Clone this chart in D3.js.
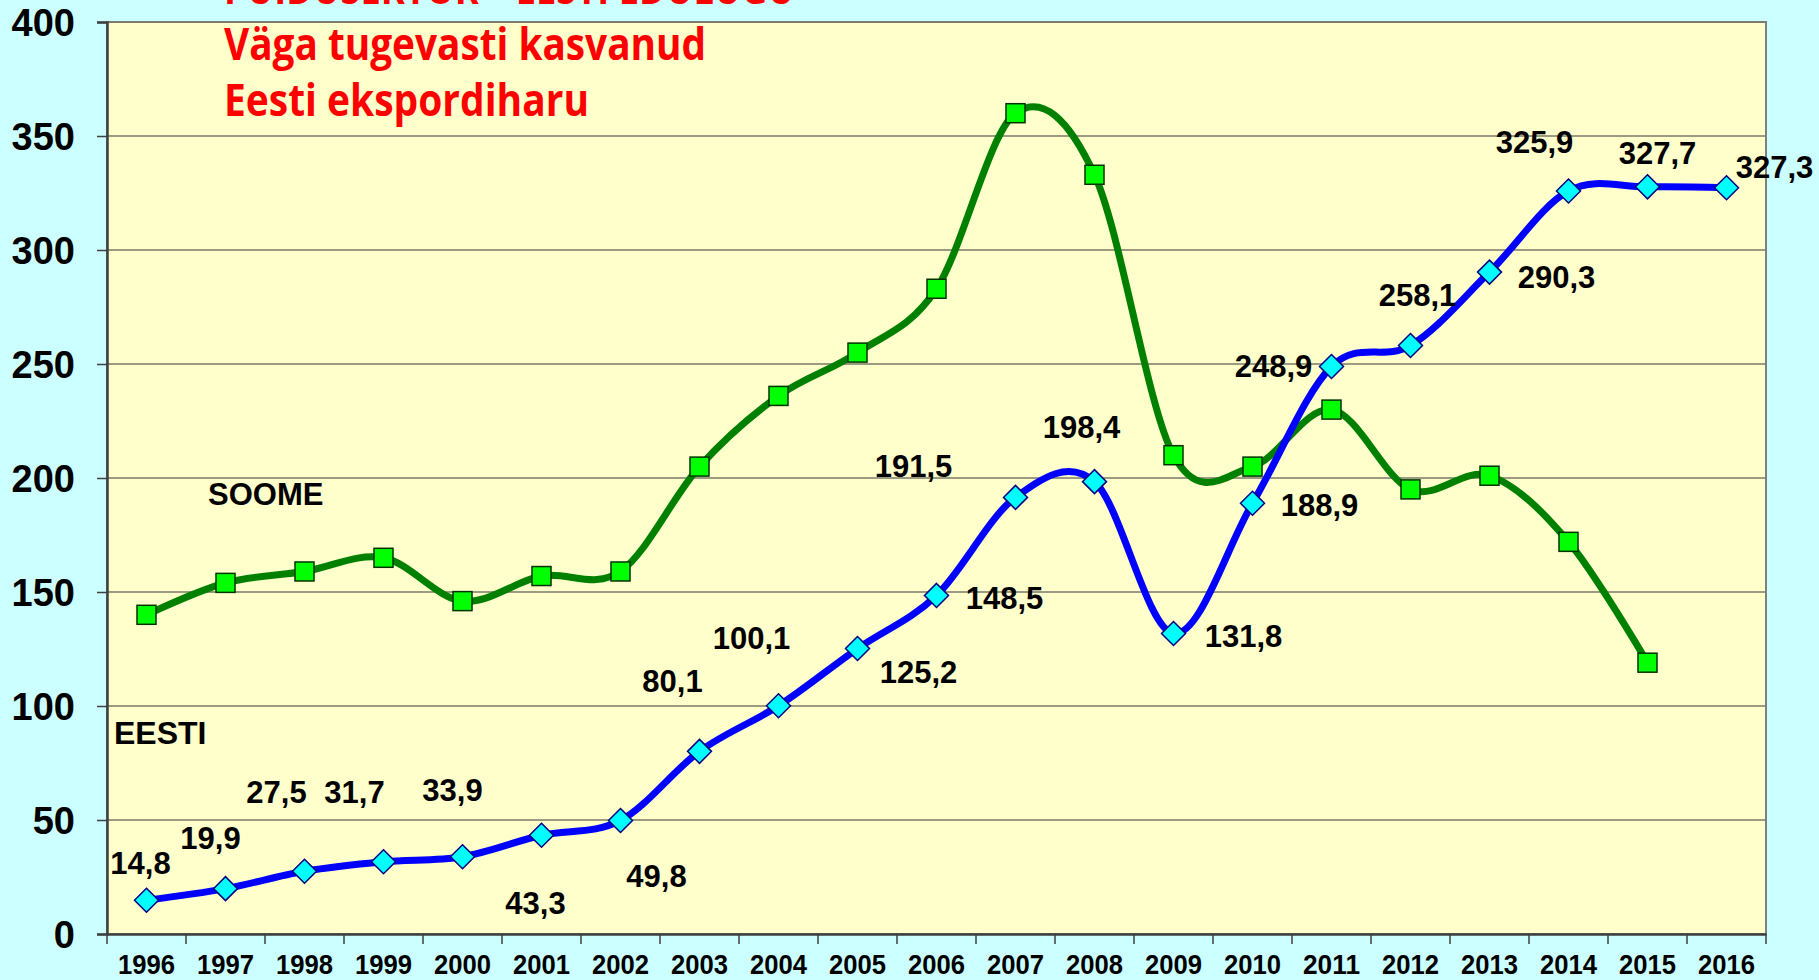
<!DOCTYPE html>
<html>
<head>
<meta charset="utf-8">
<script src="https://cdn.jsdelivr.net/npm/d3@7/dist/d3.min.js"></script>
<style>
  html, body { margin: 0; padding: 0; background: #CCFFFF; overflow: hidden; }
  svg { display: block; }
</style>
</head>
<body>
<svg id="chart" width="1819" height="980"></svg>
<script>
// ---- data ----
const years = ["1996","1997","1998","1999","2000","2001","2002","2003","2004","2005","2006","2007","2008","2009","2010","2011","2012","2013","2014","2015","2016"];
const eesti = [14.8,19.9,27.5,31.7,33.9,43.3,49.8,80.1,100.1,125.2,148.5,191.5,198.4,131.8,188.9,248.9,258.1,290.3,325.9,327.7,327.3];
const soome = [140,154,159,165,146,157,159,205,236,255,283,360,333,210,205,230,195,201,172,119,null];
const yTicks = [0,50,100,150,200,250,300,350,400];
const seriesNames = ["EESTI","SOOME"];
const titleLines = ["PUIDUSEKTOR – EESTI EDULUGU","Väga tugevasti kasvanud","Eesti ekspordiharu"];

// ---- layout (label placement offsets, px, relative to marker) ----
const eestiLabelOffset = [[-6,-37],[-15,-51],[-28,-79],[-29,-70],[-10,-67],[-6,68],[36,55],[-27,-71],[-27,-68],[61,23],[68,2],[-102,-32],[-13,-55],[70,2],[67,2],[-58,-1],[7,-51],[67,5],[-34,-49],[10,-34],[48,-21]];

(function(){
const svg = d3.select("#chart");
const W = 1819, H = 980;
const pL = 107, pR = 1766, pT = 22, pB = 934;

svg.append("rect").attr("x",0).attr("y",0).attr("width",W).attr("height",H).attr("fill","#CCFFFF");

const x = d3.scaleBand().domain(years).range([pL, pR]).padding(0);
const y = d3.scaleLinear().domain([0,400]).range([pB, pT]);
const cx = d => x(d) + x.bandwidth()/2;

// plot area
svg.append("rect").attr("x",pL).attr("y",pT).attr("width",pR-pL).attr("height",pB-pT)
  .attr("fill","#FFFFCC").attr("stroke","#808080").attr("stroke-width",2);

// gridlines
svg.append("g").selectAll("line").data(yTicks.filter(v => v>0)).join("line")
  .attr("x1",pL).attr("x2",pR).attr("y1",d=>y(d)).attr("y2",d=>y(d))
  .attr("stroke","#7a7a6a").attr("stroke-width",1.5);

// y axis
const yAxis = svg.append("g").attr("transform",`translate(${pL},0)`)
  .call(d3.axisLeft(y).tickValues(yTicks).tickSize(10).tickPadding(22).tickFormat(d3.format("d")));
yAxis.select(".domain").attr("stroke","#404040").attr("stroke-width",2.5);
yAxis.selectAll(".tick line").attr("stroke","#404040").attr("stroke-width",1.5);
yAxis.selectAll(".tick text").attr("font-family","'Liberation Sans', Arial, sans-serif")
  .attr("font-weight","bold").attr("font-size",38).attr("fill","#000").attr("dy","0.36em");

// x axis
const xAxis = svg.append("g").attr("transform",`translate(0,${pB})`)
  .call(d3.axisBottom(x).tickSize(0).tickPadding(0));
xAxis.select(".domain").attr("stroke","#404040").attr("stroke-width",2.5);
xAxis.selectAll(".tick text").attr("font-family","'Liberation Sans', Arial, sans-serif")
  .attr("font-weight","bold").attr("font-size",27).attr("fill","#000")
  .attr("y",40).attr("dy",0)
  .attr("textLength",57).attr("lengthAdjust","spacingAndGlyphs");
const bounds = years.map(d => x(d)).concat([pR]);
svg.append("g").selectAll("line").data(bounds).join("line")
  .attr("x1",d=>d).attr("x2",d=>d).attr("y1",pB).attr("y2",pB+10)
  .attr("stroke","#404040").attr("stroke-width",1.5);

// title
const titleFont = "'Open Sans', 'Noto Sans', sans-serif";
const tg = svg.append("g").attr("font-family",titleFont).attr("font-weight","bold").attr("fill","#FF0000").attr("font-size",44);
tg.append("text").attr("x",224).attr("y",4).attr("textLength",571).attr("lengthAdjust","spacingAndGlyphs").text(titleLines[0]);
tg.append("text").attr("x",224).attr("y",60).attr("textLength",482).attr("lengthAdjust","spacingAndGlyphs").text(titleLines[1]);
tg.append("text").attr("x",224).attr("y",116).attr("textLength",365).attr("lengthAdjust","spacingAndGlyphs").text(titleLines[2]);

// lines
const curve = d3.curveCatmullRom.alpha(0);
const soomeData = years.map((d,i)=>({year:d, v:soome[i]})).filter(d=>d.v!=null);
const eestiData = years.map((d,i)=>({year:d, v:eesti[i]}));
const line = d3.line().x(d=>cx(d.year)).y(d=>y(d.v)).curve(curve);

svg.append("path").datum(soomeData).attr("d",line).attr("fill","none")
  .attr("stroke","#008000").attr("stroke-width",7).attr("stroke-linejoin","round");
svg.append("path").datum(eestiData).attr("d",line).attr("fill","none")
  .attr("stroke","#0000FF").attr("stroke-width",7).attr("stroke-linejoin","round");

// markers
const sq = 19;
svg.append("g").selectAll("rect").data(soomeData).join("rect")
  .attr("x",d=>cx(d.year)-sq/2).attr("y",d=>y(d.v)-sq/2).attr("width",sq).attr("height",sq)
  .attr("fill","#00FF00").attr("stroke","#003300").attr("stroke-width",1.5);
const dm = 12;
svg.append("g").selectAll("path").data(eestiData).join("path")
  .attr("d",d=>{const px=cx(d.year), py=y(d.v); return `M${px},${py-dm}L${px+dm},${py}L${px},${py+dm}L${px-dm},${py}Z`;})
  .attr("fill","#00FFFF").attr("stroke","#000080").attr("stroke-width",1.5);

// data labels
const fmt = v => v.toFixed(1).replace(".",",");
svg.append("g").selectAll("text").data(eestiData).join("text")
  .attr("x",(d,i)=>cx(d.year)+eestiLabelOffset[i][0])
  .attr("y",(d,i)=>y(d.v)+eestiLabelOffset[i][1])
  .attr("dy","0.36em").attr("text-anchor","middle")
  .attr("font-family","'Liberation Sans', Arial, sans-serif").attr("font-weight","bold")
  .attr("font-size",31).attr("fill","#000").text(d=>fmt(d.v));

// series names
const ng = svg.append("g").attr("font-family","'Liberation Sans', Arial, sans-serif").attr("font-weight","bold").attr("font-size",31).attr("fill","#000");
ng.append("text").attr("x",208).attr("y",505).text(seriesNames[1]);
ng.append("text").attr("x",114).attr("y",744).attr("font-size",32).text(seriesNames[0]);
})();
</script>
</body>
</html>
